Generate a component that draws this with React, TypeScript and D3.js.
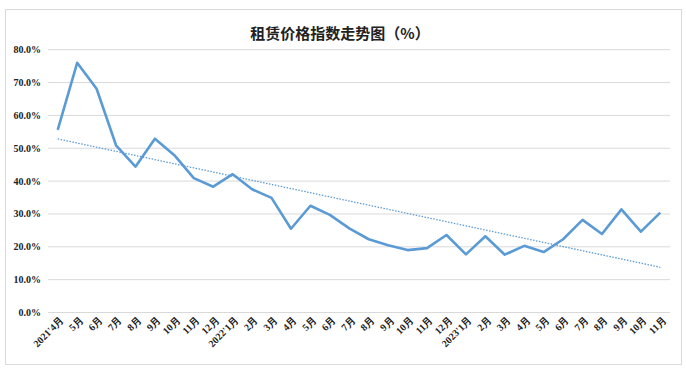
import { useEffect, useRef } from 'react';
import * as d3 from 'd3';

// 月份标签
const months = [
  "2021'4月", '5月', '6月', '7月', '8月', '9月', '10月', '11月', '12月',
  "2022'1月", '2月', '3月', '4月', '5月', '6月', '7月', '8月', '9月', '10月', '11月', '12月',
  "2023'1月", '2月', '3月', '4月', '5月', '6月', '7月', '8月', '9月', '10月', '11月',
];

// 租赁价格指数 (%)
const rentIndex = [
  55.6, 76.0, 68.1, 50.9, 44.4, 52.9, 47.9, 40.9, 38.3,
  42.1, 37.5, 34.9, 25.5, 32.5, 29.7, 25.6, 22.3, 20.5, 19.0, 19.6, 23.6,
  17.7, 23.2, 17.6, 20.3, 18.4, 22.3, 28.2, 23.9, 31.4, 24.6, 30.4,
];

const yTicks = [0, 10, 20, 30, 40, 50, 60, 70, 80];

export default function App() {
  const ref = useRef<SVGSVGElement>(null);

  useEffect(() => {
    if (!ref.current) return;
    const svg = d3.select(ref.current);
    svg.selectAll('*').remove();

    const W = 686, H = 373;
    const left = 48, right = 670, top = 49.7, bottom = 312.5;
    const blue = '#5B9BD5';
    const font = '"Liberation Serif", "Times New Roman", serif';

    // 外框
    svg.append('rect')
      .attr('x', 5.5).attr('y', 9.5)
      .attr('width', 676).attr('height', 355)
      .attr('fill', '#fff').attr('stroke', '#d9d9d9');

    svg.append('text')
      .attr('x', 340).attr('y', 39)
      .attr('text-anchor', 'middle')
      .style('font-family', '"Noto Sans CJK SC", serif')
      .style('font-size', '15px')
      .style('font-weight', 'bold')
      .attr('fill', '#222')
      .text('租赁价格指数走势图（%）');

    const x = d3.scaleBand<number>()
      .domain(d3.range(months.length))
      .range([left, right]);
    const cx = (i: number) => (x(i) || 0) + x.bandwidth() / 2;

    const y = d3.scaleLinear().domain([0, 80]).range([bottom, top]);

    // 网格线
    svg.append('g').selectAll('line')
      .data(yTicks)
      .enter()
      .append('line')
      .attr('x1', left).attr('x2', right)
      .attr('y1', d => y(d)).attr('y2', d => y(d))
      .attr('stroke', '#d9d9d9').attr('stroke-width', 1);

    svg.append('g').selectAll('text')
      .data(yTicks)
      .enter()
      .append('text')
      .attr('x', 41)
      .attr('y', d => y(d) + 3.5)
      .attr('text-anchor', 'end')
      .style('font-family', font)
      .style('font-size', '10px')
      .style('font-weight', 'bold')
      .attr('fill', '#222')
      .text(d => d.toFixed(1) + '%');

    // X 轴标签
    svg.append('g').selectAll('text')
      .data(months)
      .enter()
      .append('text')
      .attr('transform', (_, i) => `translate(${cx(i) + 4},${bottom + 6}) rotate(-45)`)
      .attr('text-anchor', 'end')
      .attr('dy', '0.35em')
      .style('font-family', font)
      .style('font-size', '10px')
      .style('font-weight', 'bold')
      .attr('fill', '#222')
      .text(d => d);

    // 线性趋势线
    const idx = d3.range(rentIndex.length);
    const mx = d3.mean(idx) as number;
    const my = d3.mean(rentIndex) as number;
    const slope = d3.sum(idx, i => (i - mx) * (rentIndex[i] - my)) / d3.sum(idx, i => (i - mx) ** 2);
    const trend = (i: number) => my + slope * (i - mx);
    const last = rentIndex.length - 1;

    svg.append('line')
      .attr('x1', cx(0)).attr('y1', y(trend(0)))
      .attr('x2', cx(last)).attr('y2', y(trend(last)))
      .attr('stroke', blue)
      .attr('stroke-width', 1.3)
      .attr('stroke-dasharray', '1.5,1.5');

    const line = d3.line<number>()
      .x((_, i) => cx(i))
      .y(d => y(d));

    svg.append('path')
      .datum(rentIndex)
      .attr('d', line)
      .attr('fill', 'none')
      .attr('stroke', blue)
      .attr('stroke-width', 2.6)
      .attr('stroke-linejoin', 'round');

    svg.attr('width', W).attr('height', H);
  }, []);

  return (
    <div style={{ position: 'absolute', left: 0, top: 0 }}>
      <svg ref={ref} width={686} height={373} style={{ display: 'block', background: '#fff' }} />
    </div>
  );
}
